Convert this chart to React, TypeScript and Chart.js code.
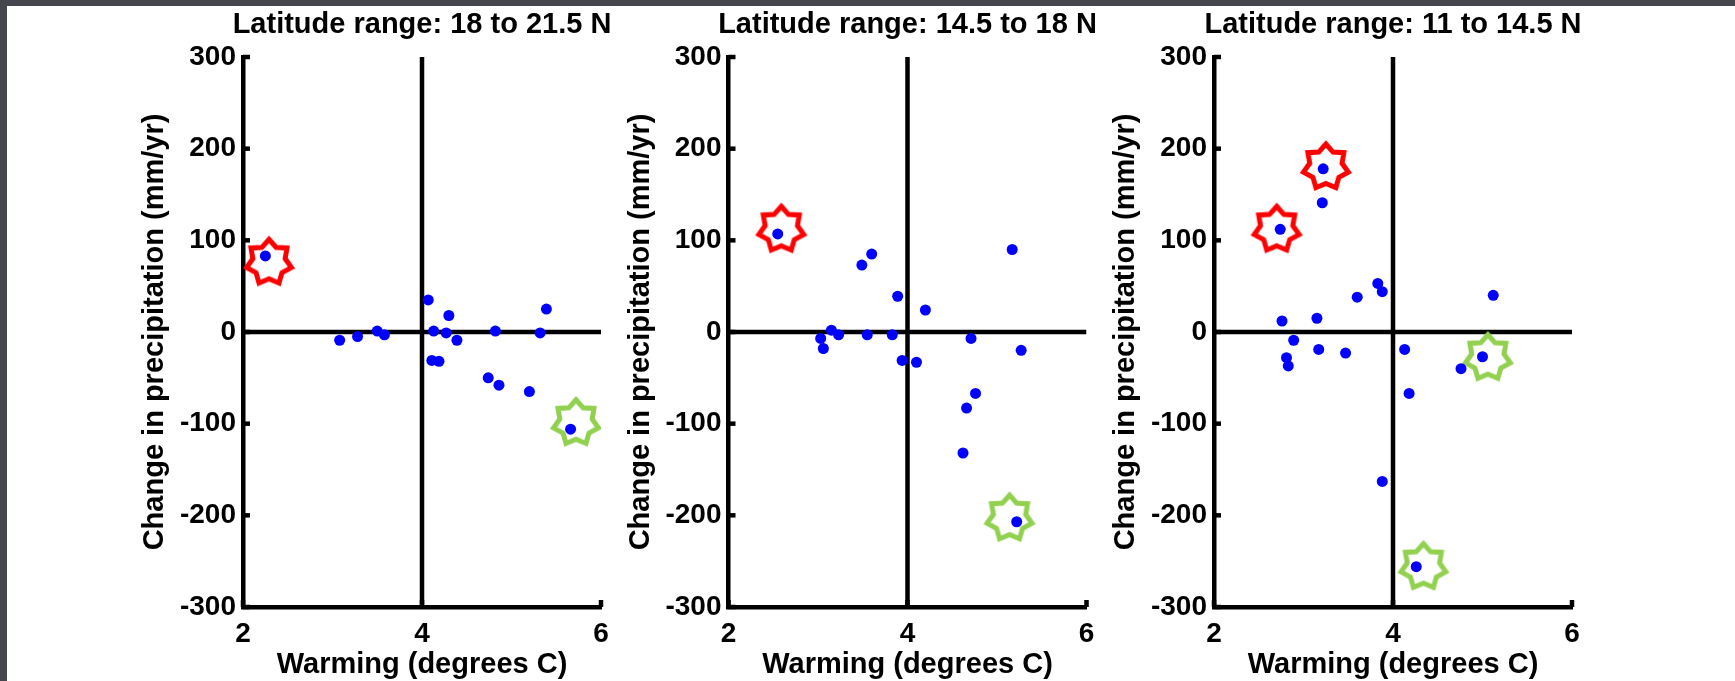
import React, { useEffect, useRef } from 'react';
import { Chart, registerables } from 'chart.js';

Chart.register(...registerables);

// ---------------- data ----------------
const panelTitles = [
  'Latitude range: 18 to 21.5 N',
  'Latitude range: 14.5 to 18 N',
  'Latitude range: 11 to 14.5 N',
];
const xAxisTitle = 'Warming (degrees C)';
const yAxisTitle = 'Change in precipitation (mm/yr)';

const xTickValues = [2, 4, 6];
const xTickLabels = ['2', '4', '6'];
const yTickValues = [-300, -200, -100, 0, 100, 200, 300];
const yTickLabels = ['-300', '-200', '-100', '0', '100', '200', '300'];

// 18 to 21.5 N
const warmingA = [2.25, 3.08, 3.28, 3.5, 3.58, 4.07, 4.11, 4.13, 4.19, 4.27, 4.3, 4.39, 4.74, 4.82, 4.86, 5.2, 5.32, 5.39, 5.66];
const precipA = [83, -9, -5, 1, -3, 35, -31, 1, -32, -1, 18, -9, -50, 1, -58, -65, -1, 25, -106];
const redStarXA = [2.29];
const redStarYA = [76];
const greenStarXA = [5.72];
const greenStarYA = [-99];

// 14.5 to 18 N
const warmingB = [2.55, 3.03, 3.06, 3.15, 3.23, 3.49, 3.55, 3.6, 3.83, 3.89, 3.94, 4.1, 4.2, 4.62, 4.66, 4.71, 4.76, 5.17, 5.22, 5.27];
const precipB = [107, -7, -18, 2, -3, 73, -3, 85, -3, 39, -31, -33, 24, -132, -83, -7, -67, 90, -207, -20];
const redStarXB = [2.59];
const redStarYB = [112];
const greenStarXB = [5.14];
const greenStarYB = [-203];

// 11 to 14.5 N
const warmingC = [2.74, 2.76, 2.81, 2.83, 2.89, 3.15, 3.17, 3.21, 3.22, 3.47, 3.6, 3.83, 3.88, 3.88, 4.13, 4.18, 4.26, 4.76, 5.0, 5.12];
const precipC = [112, 12, -28, -37, -9, 15, -19, 141, 178, -23, 38, 53, 44, -163, -19, -67, -256, -40, -27, 40];
const redStarXC = [2.7, 3.25];
const redStarYC = [112, 180];
const greenStarXC = [5.06, 4.34];
const greenStarYC = [-28, -256];

// reference lines
const zeroLineX = [2, 6];
const zeroLineY = [0, 0];
const fourLineX = [4, 4];
const fourLineY = [-300, 300];

// ---------------- layout / style ----------------
const PAGE_W = 1735;
const PAGE_H = 681;
const CANVAS_H = 720;
const PLOT_LEFTS = [243, 728.5, 1214];
const PLOT_W = 358;
const FONT = 'Liberation Sans';
const LINE_W = 4.5;
const TITLE_SIZE = 29;
const LABEL_SIZE = 29;
const TICK_SIZE = 28;
const Y_AXIS_W = 105;

const panels = [
  { title: panelTitles[0], x: warmingA, y: precipA, rx: redStarXA, ry: redStarYA, gx: greenStarXA, gy: greenStarYA },
  { title: panelTitles[1], x: warmingB, y: precipB, rx: redStarXB, ry: redStarYB, gx: greenStarXB, gy: greenStarYB },
  { title: panelTitles[2], x: warmingC, y: precipC, rx: redStarXC, ry: redStarYC, gx: greenStarXC, gy: greenStarYC },
];

function toPoints(xs: number[], ys: number[]) {
  return xs.map((v, i) => ({ x: v, y: ys[i] }));
}

function makeStar(color: string): HTMLCanvasElement {
  const size = 64;
  const c = document.createElement('canvas');
  c.width = size;
  c.height = size;
  const g = c.getContext('2d')!;
  const R = 23;
  const r = R * 0.72;
  const n = 7;
  g.beginPath();
  for (let i = 0; i < n * 2; i++) {
    const ang = -Math.PI / 2 + (i * Math.PI) / n;
    const rad = i % 2 === 0 ? R : r;
    const px = size / 2 + rad * Math.cos(ang);
    const py = size / 2 + rad * Math.sin(ang);
    if (i === 0) g.moveTo(px, py);
    else g.lineTo(px, py);
  }
  g.closePath();
  g.strokeStyle = color;
  g.lineWidth = 5;
  g.lineJoin = 'miter';
  g.miterLimit = 10;
  g.stroke();
  return c;
}

const inwardTicks = {
  id: 'inwardTicks',
  beforeDatasetsDraw(chart: any) {
    const { ctx, chartArea, scales } = chart;
    ctx.save();
    ctx.strokeStyle = '#000';
    ctx.lineWidth = LINE_W;
    ctx.lineCap = 'butt';
    for (const v of yTickValues) {
      const py = scales.y.getPixelForValue(v);
      ctx.beginPath();
      ctx.moveTo(chartArea.left, py);
      ctx.lineTo(chartArea.left + 7, py);
      ctx.stroke();
    }
    for (const v of xTickValues) {
      const px = scales.x.getPixelForValue(v);
      ctx.beginPath();
      ctx.moveTo(px, chartArea.bottom);
      ctx.lineTo(px, chartArea.bottom - 7);
      ctx.stroke();
    }
    ctx.restore();
  },
};

function Panel({ index }: { index: number }) {
  const ref = useRef<HTMLCanvasElement>(null);
  useEffect(() => {
    const canvas = ref.current!;
    const p = panels[index];
    const plotLeft = PLOT_LEFTS[index];
    const padLeft = plotLeft - Y_AXIS_W;
    // a blank right axis of the same width keeps the full-width title centred over the plot
    const padRight = PAGE_W - (plotLeft + PLOT_W + Y_AXIS_W);
    const titleH = TITLE_SIZE * 1.2;
    const titleMid = 24.5;
    const padTop = titleMid - titleH / 2;
    const plotTop = 57;
    const plotBottom = 607;
    const xAxisBottom = 682.4;
    const tickMid = 633.8;
    const redStar = makeStar('#ff0000');
    const greenStar = makeStar('#92d050');

    const chart = new Chart(canvas, {
      type: 'scatter',
      data: {
        datasets: [
          {
            data: toPoints(p.x, p.y),
            backgroundColor: '#0000ff',
            borderWidth: 0,
            pointRadius: 5.5,
            pointHoverRadius: 5.5,
          },
          {
            data: toPoints(p.rx, p.ry),
            pointStyle: redStar,
            pointRadius: 26,
          },
          {
            data: toPoints(p.gx, p.gy),
            pointStyle: greenStar,
            pointRadius: 26,
          },
          {
            data: toPoints(zeroLineX, zeroLineY),
            showLine: true,
            borderColor: '#000',
            borderWidth: LINE_W,
            pointRadius: 0,
          },
          {
            data: toPoints(fourLineX, fourLineY),
            showLine: true,
            borderColor: '#000',
            borderWidth: LINE_W,
            pointRadius: 0,
          },
        ],
      } as any,
      options: {
        animation: false,
        responsive: false,
        devicePixelRatio: 1,
        events: [],
        layout: {
          autoPadding: false,
          padding: { left: padLeft, right: padRight, top: padTop, bottom: CANVAS_H - xAxisBottom },
        },
        plugins: {
          legend: { display: false },
          tooltip: { enabled: false },
          title: {
            display: true,
            text: p.title,
            color: '#000',
            fullSize: true,
            font: { family: FONT, size: TITLE_SIZE, weight: 'bold', lineHeight: 1.2 },
            padding: { top: 0, bottom: plotTop - padTop - titleH },
          },
        },
        scales: {
          x: {
            type: 'linear',
            position: 'bottom',
            min: 2,
            max: 6,
            afterBuildTicks: (scale: any) => {
              scale.ticks = xTickValues.map((v) => ({ value: v }));
            },
            afterFit: (scale: any) => {
              scale.height = xAxisBottom - plotBottom;
              scale.paddingLeft = 0;
              scale.paddingRight = 0;
              scale.paddingTop = 0;
              scale.paddingBottom = 0;
            },
            grid: { display: false, drawTicks: false },
            border: { display: true, color: '#000', width: LINE_W },
            ticks: {
              color: '#000',
              padding: tickMid - plotBottom - (TICK_SIZE * 1.2) / 2,
              maxRotation: 0,
              autoSkip: false,
              font: { family: FONT, size: TICK_SIZE, weight: 'bold', lineHeight: 1.2 },
              callback: (v: any) => xTickLabels[xTickValues.indexOf(Number(v))],
            },
            title: {
              display: true,
              text: xAxisTitle,
              color: '#000',
              padding: 0,
              font: { family: FONT, size: LABEL_SIZE, weight: 'bold', lineHeight: 1.2 },
            },
          },
          y: {
            type: 'linear',
            position: 'left',
            min: -300,
            max: 300,
            afterBuildTicks: (scale: any) => {
              scale.ticks = yTickValues.map((v) => ({ value: v }));
            },
            afterFit: (scale: any) => {
              scale.width = Y_AXIS_W;
              scale.paddingLeft = 0;
              scale.paddingRight = 0;
              scale.paddingTop = 0;
              scale.paddingBottom = 0;
            },
            grid: { display: false, drawTicks: false },
            border: { display: true, color: '#000', width: LINE_W },
            ticks: {
              color: '#000',
              padding: 7,
              autoSkip: false,
              font: { family: FONT, size: TICK_SIZE, weight: 'bold', lineHeight: 1.2 },
              callback: (v: any) => yTickLabels[yTickValues.indexOf(Number(v))],
            },
            title: {
              display: true,
              text: yAxisTitle,
              color: '#000',
              padding: 0,
              font: { family: FONT, size: LABEL_SIZE, weight: 'bold', lineHeight: 1.2 },
            },
          },
          spacer: {
            type: 'linear',
            position: 'right',
            display: true,
            min: -300,
            max: 300,
            afterFit: (scale: any) => {
              scale.width = Y_AXIS_W;
              scale.paddingLeft = 0;
              scale.paddingRight = 0;
              scale.paddingTop = 0;
              scale.paddingBottom = 0;
            },
            grid: { display: false, drawTicks: false },
            border: { display: false },
            ticks: { display: false },
            title: { display: false },
          },
        },
      } as any,
      plugins: [inwardTicks],
    });
    return () => chart.destroy();
  }, [index]);

  return (
    <canvas
      ref={ref}
      width={PAGE_W}
      height={CANVAS_H}
      style={{ position: 'absolute', left: 0, top: 0, width: PAGE_W, height: CANVAS_H }}
    />
  );
}

export default function App() {
  return (
    <div
      style={{
        position: 'absolute',
        left: 0,
        top: 0,
        width: PAGE_W,
        height: PAGE_H,
        overflow: 'hidden',
        background: '#ffffff',
      }}
    >
      <Panel index={0} />
      <Panel index={1} />
      <Panel index={2} />
      <div style={{ position: 'absolute', left: 0, top: 0, width: PAGE_W, height: 6, background: '#46464f' }} />
      <div style={{ position: 'absolute', left: 0, top: 0, width: 7, height: PAGE_H, background: '#46464f' }} />
    </div>
  );
}
